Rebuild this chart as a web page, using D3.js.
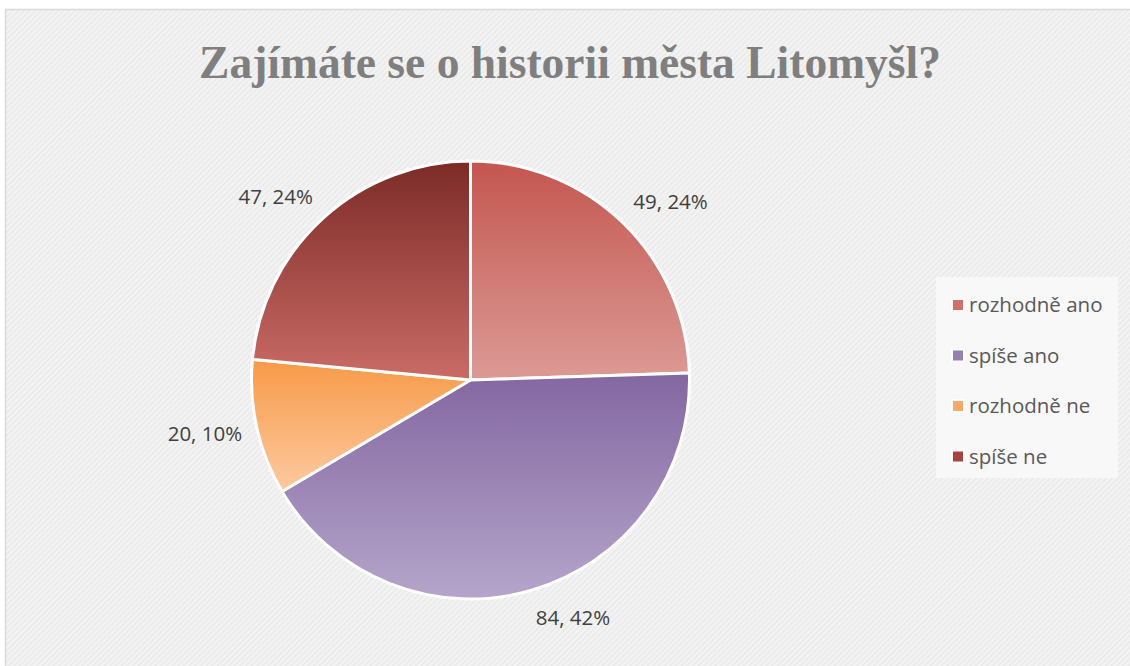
<!DOCTYPE html>
<html>
<head>
<meta charset="utf-8">
<script src="https://cdn.jsdelivr.net/npm/d3@7"></script>
<style>
  body { margin: 0; background: #fff; }
  svg { display: block; }
</style>
</head>
<body>
<script>
var width = 1130,
    height = 666;

// answers and counts
var categories = ["rozhodně ano", "spíše ano", "rozhodně ne", "spíše ne"];
var counts = [49, 84, 20, 47];
var percents = ["24%", "42%", "10%", "24%"];
// gradient top / bottom per slice
var colorTop = ["#c4564f", "#8367a1", "#f79a48", "#7c2b27"];
var colorBottom = ["#dc9a95", "#b5a5ca", "#fdcaa0", "#ca6b66"];
var colorLegend = ["#d0706a", "#9580b3", "#faaa66", "#a8443f"];

var title = "Zajímáte se o historii města Litomyšl?";

var svg = d3.select("body").append("svg")
    .attr("width", width)
    .attr("height", height);

var defs = svg.append("defs");

// faint diagonal hatch of the chart area
var hatch = defs.append("pattern")
    .attr("id", "hatch")
    .attr("patternUnits", "userSpaceOnUse")
    .attr("width", 4)
    .attr("height", 4)
    .attr("patternTransform", "rotate(45)");
hatch.append("rect").attr("width", 4).attr("height", 4).attr("fill", "#f3f3f3");
hatch.append("rect").attr("width", 1.2).attr("height", 4).attr("fill", "#e7e7e7");

categories.forEach(function (c, i) {
    var g = defs.append("linearGradient")
        .attr("id", "grad" + i)
        .attr("x1", 0).attr("y1", 0)
        .attr("x2", 0).attr("y2", 1);
    g.append("stop").attr("offset", "0%").attr("stop-color", colorTop[i]);
    g.append("stop").attr("offset", "100%").attr("stop-color", colorBottom[i]);
});

// chart area
svg.append("rect")
    .attr("x", 5.5)
    .attr("y", 9.5)
    .attr("width", 1140)
    .attr("height", 670)
    .attr("fill", "url(#hatch)")
    .attr("stroke", "#d9d9d9")
    .attr("stroke-width", 1.5);

svg.append("text")
    .attr("x", 570)
    .attr("y", 78)
    .attr("text-anchor", "middle")
    .style("font-family", "'Liberation Serif', 'DejaVu Serif', serif")
    .style("font-weight", "bold")
    .style("font-size", "45.5px")
    .style("fill", "#7f7f7f")
    .text(title);

// pie
var cx = 470.5,
    cy = 380,
    radius = 219;

var pie = d3.pie().sort(null).value(function (d) { return d; });
var arc = d3.arc().innerRadius(0).outerRadius(radius);
var arcs = pie(counts);

var g = svg.append("g").attr("transform", "translate(" + cx + "," + cy + ")");

g.selectAll("path.slice")
    .data(arcs)
    .enter()
    .append("path")
    .attr("class", "slice")
    .attr("d", arc)
    .attr("fill", function (d, i) { return "url(#grad" + i + ")"; })
    .attr("stroke", "#fff")
    .attr("stroke-width", 3)
    .attr("stroke-linejoin", "round");

// data labels outside end: box corner sits on a ring just outside the pie
var labels = g.selectAll("text.lbl")
    .data(arcs)
    .enter()
    .append("text")
    .attr("class", "lbl")
    .attr("text-anchor", "middle")
    .style("font-family", "'Open Sans', 'Noto Sans', sans-serif")
    .style("font-size", "20.5px")
    .style("fill", "#404040")
    .text(function (d, i) { return counts[i] + ", " + percents[i]; });

labels.each(function (d) {
    var t = d3.select(this);
    var box = this.getBBox();
    var a = (d.startAngle + d.endAngle) / 2;
    var ux = Math.sin(a), uy = -Math.cos(a);
    var r0 = radius + 15;
    var x = ux * r0 + Math.sign(ux) * box.width / 2,
        y = uy * r0 + uy * box.height / 2;
    t.attr("x", x).attr("y", y + 7);
});

// legend
var legend = svg.append("g");
legend.append("rect")
    .attr("x", 936)
    .attr("y", 277)
    .attr("width", 182)
    .attr("height", 201)
    .attr("fill", "#f8f8f8");

var rows = legend.selectAll("g.row")
    .data(categories)
    .enter()
    .append("g")
    .attr("class", "row")
    .attr("transform", function (d, i) { return "translate(951," + (305 + i * 50.5) + ")"; });

rows.append("rect")
    .attr("x", 0).attr("y", -7)
    .attr("width", 14).attr("height", 14)
    .attr("fill", "#fff");
rows.append("rect")
    .attr("x", 2).attr("y", -5)
    .attr("width", 10).attr("height", 10)
    .attr("fill", function (d, i) { return colorLegend[i]; });
rows.append("text")
    .attr("x", 18)
    .attr("y", 7)
    .style("font-family", "'Open Sans', 'Noto Sans', sans-serif")
    .style("font-size", "20.5px")
    .style("fill", "#595959")
    .text(function (d) { return d; });
</script>
</body>
</html>
